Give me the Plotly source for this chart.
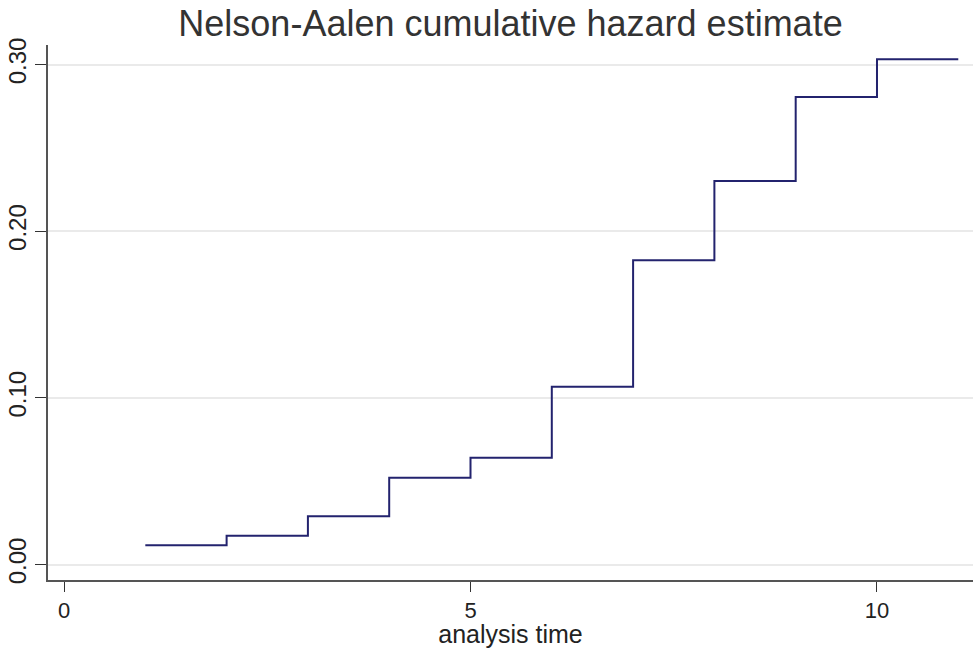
import plotly.graph_objects as go

# Data
times = [1, 2, 3, 4, 5, 6, 7, 8, 9, 10, 11]
cum_hazard = [0.0115, 0.0173, 0.0289, 0.0520, 0.0640, 0.1066, 0.1825, 0.2301, 0.2805, 0.3032, 0.3032]
x_ticks = [0, 5, 10]
y_ticks = [0.0, 0.1, 0.2, 0.3]
y_tick_labels = ["0.00", "0.10", "0.20", "0.30"]

fig = go.Figure()
fig.add_trace(go.Scatter(
    x=times, y=cum_hazard, mode="lines", line_shape="hv",
    line=dict(color="#23236e", width=2), showlegend=False,
))

font_family = "Liberation Sans, Arial, sans-serif"
fig.update_layout(
    width=973, height=648,
    paper_bgcolor="white", plot_bgcolor="white",
    margin=dict(l=48, r=0, t=45, b=68),
    font=dict(family=font_family, color="#222222"),
    title=dict(text="Nelson-Aalen cumulative hazard estimate", xref="paper", x=0.5, xanchor="center",
               y=1 - 23 / 648, yanchor="middle", font=dict(size=36, color="#333333")),
)
fig.update_xaxes(
    range=[-0.197, 11.181], tickvals=x_ticks, ticktext=[str(v) for v in x_ticks],
    showgrid=False, zeroline=False, showline=True, linecolor="#555555", linewidth=1.5,
    ticks="outside", ticklen=10, tickcolor="#333333", tickwidth=1,
    tickfont=dict(size=22, color="#222222"),
    title=dict(text="analysis time", font=dict(size=25, color="#222222"), standoff=4),
)
fig.update_yaxes(
    range=[-0.0093, 0.3117], tickvals=y_ticks, ticktext=y_tick_labels, tickangle=-90,
    showgrid=True, gridcolor="#eaeaea", gridwidth=2, zeroline=False,
    showline=True, linecolor="#555555", linewidth=1.5,
    ticks="outside", ticklen=11, tickcolor="#333333", tickwidth=1,
    tickfont=dict(size=24, color="#222222"),
)

fig.write_html("out.html", config={"displayModeBar": False},
               post_script="document.body.style.margin='0';document.body.style.overflow='hidden';")
